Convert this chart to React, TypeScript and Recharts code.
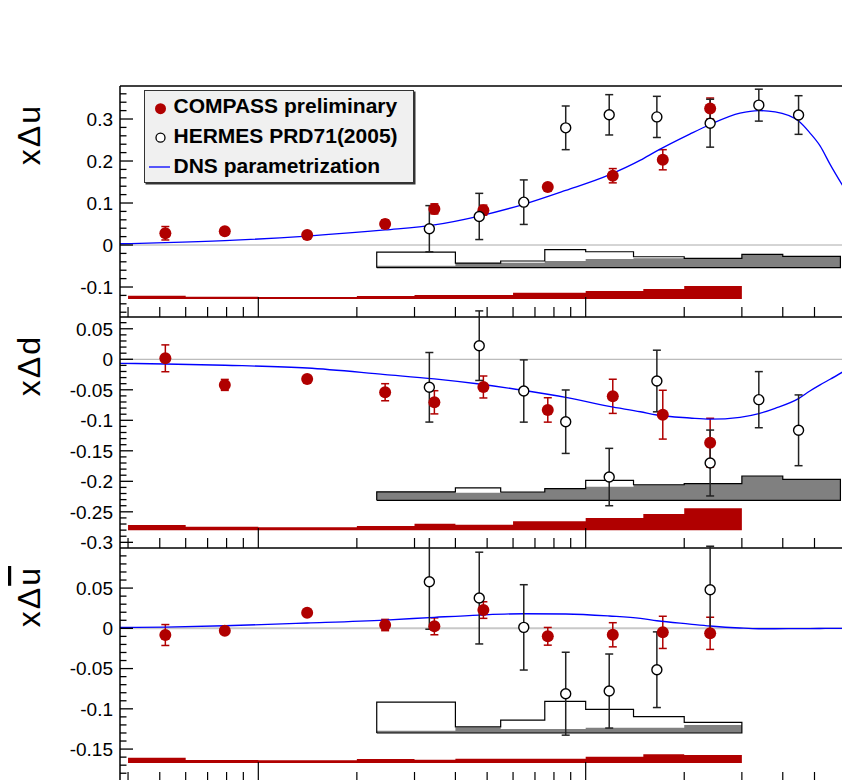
import React from 'react';
import {
  ComposedChart,
  XAxis,
  YAxis,
  Scatter,
  ErrorBar,
  Line,
  Area,
  ReferenceLine,
  Legend,
} from 'recharts';

const FONT = '"Liberation Sans", Arial, Helvetica, sans-serif';
const RED = '#b00000';
const BLUE = '#0000ff';

// Bjorken x of the measured points and of the systematic-error bins
const COMPASS_X = [0.0052, 0.0079, 0.0141, 0.0244, 0.0345, 0.0487, 0.0766, 0.121, 0.172, 0.24];
const HERMES_X = [0.0333, 0.0473, 0.0647, 0.0869, 0.118, 0.165, 0.24, 0.338, 0.447];
const COMPASS_EDGES = [0.004, 0.006, 0.01, 0.02, 0.03, 0.04, 0.06, 0.1, 0.15, 0.2, 0.3];
const HERMES_EDGES = [0.023, 0.04, 0.055, 0.075, 0.1, 0.14, 0.2, 0.3, 0.4, 0.6];
const CURVE_X = [
  0.00378, 0.0052, 0.0079, 0.0141, 0.0244, 0.0345, 0.0473, 0.0647, 0.0869, 0.118, 0.147,
  0.165, 0.208, 0.24, 0.296, 0.338, 0.379, 0.448, 0.484, 0.52, 0.558, 0.611,
];

const X_DOMAIN = [0.00378, 0.611];
const X_MAJOR = [0.01, 0.1];
const X_MINOR = [
  0.004, 0.005, 0.006, 0.007, 0.008, 0.009, 0.02, 0.03, 0.04, 0.05, 0.06, 0.07, 0.08, 0.09,
  0.2, 0.3, 0.4, 0.5,
];

// x Delta u
const U_COMPASS = [0.028, 0.033, 0.024, 0.05, 0.086, 0.083, 0.138, 0.165, 0.203, 0.325];
const U_COMPASS_ERR = [0.016, 0.008, 0.006, 0.01, 0.012, 0.012, 0.008, 0.017, 0.024, 0.025];
const U_HERMES = [0.0388, 0.068, 0.102, 0.279, 0.31, 0.305, 0.29, 0.333, 0.3095];
const U_HERMES_ERR = [0.055, 0.055, 0.053, 0.052, 0.048, 0.049, 0.057, 0.038, 0.046];
const U_DNS = [
  0.003, 0.0055, 0.0103, 0.0214, 0.036, 0.048, 0.069, 0.097, 0.13, 0.167, 0.202, 0.224, 0.264,
  0.287, 0.314, 0.32, 0.317, 0.2945, 0.267, 0.236, 0.192, 0.14,
];
const U_HERMES_SYS_BASE = -0.054;
const U_HERMES_SYS_TOT = [-0.0167, -0.0429, -0.0381, -0.0112, -0.016, -0.0279, -0.0317, -0.0221, -0.0269];
const U_HERMES_SYS_PART = [-0.0493, -0.0429, -0.042, -0.0381, -0.0333, -0.0317, -0.0317, -0.0221, -0.0269];
const U_COMPASS_SYS_BASE = -0.1286;
const U_COMPASS_SYS = [-0.1207, -0.1231, -0.1238, -0.1214, -0.119, -0.119, -0.1136, -0.1095, -0.1048, -0.0976];
const U_TICKS = [-0.1, 0, 0.1, 0.2, 0.3];

// x Delta d
const D_COMPASS = [0.0016, -0.042, -0.0323, -0.054, -0.0705, -0.0454, -0.083, -0.0607, -0.0908, -0.1367];
const D_COMPASS_ERR = [0.022, 0.009, 0.005, 0.014, 0.019, 0.018, 0.02, 0.028, 0.04, 0.04];
const D_HERMES = [-0.0459, 0.0223, -0.052, -0.1023, -0.193, -0.0356, -0.17, -0.0662, -0.1164];
const D_HERMES_ERR = [0.057, 0.057, 0.051, 0.052, 0.047, 0.0505, 0.054, 0.046, 0.058];
const D_DNS = [
  -0.0066, -0.0077, -0.0098, -0.0143, -0.025, -0.032, -0.0405, -0.051, -0.0623, -0.0772, -0.086,
  -0.0913, -0.0962, -0.0982, -0.0951, -0.089, -0.0803, -0.064, -0.052, -0.042, -0.0328, -0.0205,
];
const D_HERMES_SYS_BASE = -0.2311;
const D_HERMES_SYS_TOT = [-0.2173, -0.2108, -0.2175, -0.2121, -0.1984, -0.2056, -0.2039, -0.1913, -0.1967];
const D_HERMES_SYS_PART = [-0.2173, -0.2187, -0.2175, -0.2121, -0.2089, -0.2056, -0.2039, -0.1913, -0.1967];
const D_COMPASS_SYS_BASE = -0.2803;
const D_COMPASS_SYS = [-0.2715, -0.2743, -0.2752, -0.2731, -0.2697, -0.271, -0.2656, -0.2602, -0.2536, -0.2443];
const D_TICKS = [-0.3, -0.25, -0.2, -0.15, -0.1, -0.05, 0, 0.05];

// x Delta u-bar
const UB_COMPASS = [-0.0083, -0.003, 0.0194, 0.0041, 0.0025, 0.0227, -0.0099, -0.008, -0.005, -0.0062];
const UB_COMPASS_ERR = [0.013, 0.004, 0.003, 0.007, 0.0105, 0.0103, 0.011, 0.015, 0.02, 0.02];
const UB_HERMES = [0.0579, 0.0376, 0.0012, -0.0812, -0.0779, -0.0514, 0.048];
const UB_HERMES_ERR = [0.059, 0.057, 0.053, 0.0515, 0.046, 0.047, 0.054];
const UB_DNS = [
  0.0012, 0.0016, 0.0032, 0.0066, 0.0103, 0.0137, 0.0165, 0.0181, 0.0178, 0.0153, 0.0124,
  0.0094, 0.0053, 0.0029, 0.0004, -0.0005, -0.0005, -0.0004, -0.0003, -0.0002, -0.0001, 0,
];
const UB_HERMES_SYS_BASE = -0.13;
const UB_HERMES_SYS_TOT = [-0.0916, -0.1223, -0.114, -0.0908, -0.1007, -0.1098, -0.1168];
const UB_HERMES_SYS_PART = [-0.1272, -0.1231, -0.1251, -0.1251, -0.1235, -0.1235, -0.1201];
const UB_COMPASS_SYS_BASE = -0.1673;
const UB_COMPASS_SYS = [-0.1607, -0.1636, -0.164, -0.1624, -0.1632, -0.162, -0.162, -0.1595, -0.1565, -0.1574];
const UB_TICKS = [-0.15, -0.1, -0.05, 0, 0.05];

const LEGEND_LABELS = ['COMPASS preliminary', 'HERMES PRD71(2005)', 'DNS parametrization'];

const CHART_W = 850;
const MARGIN = { top: 10, right: 7, bottom: 9, left: 0 };
const Y_AXIS_W = 120;

type Pt = { x: number; v: number; e?: number; major?: boolean };

const points = (xs: number[], vs: number[], es: number[]): Pt[] =>
  xs.map((x, i) => ({ x, v: vs[i], e: es[i] }));

const curve = (vs: number[]): Pt[] => CURVE_X.map((x, i) => ({ x, v: vs[i] }));

// step histogram for a filled Area (stepAfter), last edge closes the final bin
const steps = (edges: number[], tops: number[]): Pt[] => [
  ...tops.map((t, i) => ({ x: edges[i], v: t })),
  { x: edges[tops.length], v: tops[tops.length - 1] },
];

// closed outline of a step histogram sitting on a base level
const outline = (edges: number[], tops: number[], base: number): Pt[] => {
  const pts: Pt[] = [{ x: edges[0], v: base }];
  tops.forEach((t, i) => {
    pts.push({ x: edges[i], v: t });
    pts.push({ x: edges[i + 1], v: t });
  });
  pts.push({ x: edges[tops.length], v: base });
  pts.push({ x: edges[0], v: base });
  return pts;
};

const minorTicks = (domain: number[], step: number, majors: number[]) => {
  const out: number[] = [];
  const start = Math.ceil(domain[0] / step - 1e-6);
  const end = Math.floor(domain[1] / step + 1e-6);
  for (let k = start; k <= end; k++) {
    const v = Math.round(k * step * 1e6) / 1e6;
    if (!majors.some((m) => Math.abs(m - v) < 1e-6)) out.push(v);
  }
  return out;
};

const xTickMarks = (domain: number[]): Pt[] => [
  ...X_MAJOR.map((x) => ({ x, v: domain[0], major: true })),
  ...X_MINOR.map((x) => ({ x, v: domain[0], major: false })),
];

const isMajor = (p: any) => Boolean(p.payload ? p.payload.major : p.major);

const XTickMark = (p: any) => (
  <line x1={p.cx} x2={p.cx} y1={p.cy} y2={p.cy - (isMajor(p) ? 20 : 10)} stroke="#000" strokeWidth={1.2} />
);

const fmtTick = (v: number) => String(Math.round(v * 100) / 100);

const AXIS_LINE = { stroke: '#000', strokeWidth: 1.5 };

const RedDot = (p: any) => <circle cx={p.cx} cy={p.cy} r={6} fill={RED} />;
const OpenDot = (p: any) => <circle cx={p.cx} cy={p.cy} r={5} fill="#fff" stroke="#000" strokeWidth={1.4} />;

function LegendBox() {
  return (
    <div
      style={{
        width: 270,
        height: 93,
        boxSizing: 'border-box',
        background: '#f0f0f0',
        border: '1px solid #333',
        boxShadow: '1.5px 1.5px 0 #333',
      }}
    >
      <svg width={268} height={91} style={{ display: 'block' }}>
        <circle cx={15.5} cy={17.7} r={5.5} fill={RED} />
        <circle cx={15.5} cy={46.7} r={4.5} fill="#fff" stroke="#000" strokeWidth={1.3} />
        <line x1={4} x2={25} y1={76} y2={76} stroke={BLUE} strokeWidth={1.3} />
        {LEGEND_LABELS.map((t, i) => (
          <text key={t} x={28.5} y={22.3 + i * 29.7} fontFamily={FONT} fontWeight="bold" fontSize={21} fill="#000">
            {t}
          </text>
        ))}
      </svg>
    </div>
  );
}

type PanelProps = {
  top: number;
  height: number;
  domain: number[];
  majors: number[];
  minorStep: number;
  title: string;
  bar?: boolean;
  compass: Pt[];
  hermes: Pt[];
  dns: Pt[];
  hermesEdges: number[];
  hermesTot: number[];
  hermesPart: number[];
  hermesBase: number;
  compassSys: number[];
  compassBase: number;
  zeroColor: string;
  zeroWidth: number;
  frameTop?: boolean;
  legend?: boolean;
};

function Panel(p: PanelProps) {
  const majorSet = p.majors;
  const allTicks = [...p.majors, ...minorTicks(p.domain, p.minorStep, p.majors)].sort((a, b) => a - b);

  // left-axis tick: label outside, mark pointing into the frame
  const renderYTick = (tp: any) => {
    const v = tp.payload.value;
    const major = majorSet.some((m) => Math.abs(m - v) < 1e-6);
    const x0 = tp.x;
    return (
      <g>
        <path d={`M${x0},${tp.y}h${major ? 13 : 6.5}`} stroke="#000" strokeWidth={1.3} fill="none" />
        {major && (
          <text x={x0 - 7} y={tp.y} dy="0.36em" textAnchor="end" fontFamily={FONT} fontSize={19} fill="#000">
            {fmtTick(v)}
          </text>
        )}
      </g>
    );
  };

  const renderTitle = (lp: any) => {
    const vb = lp.viewBox || { x: 0, y: 10 };
    const head = p.title.slice(0, -1);
    const last = p.title.slice(-1);
    return (
      <text
        transform={`translate(${vb.x + 40},${vb.y + 18}) rotate(-90)`}
        textAnchor="end"
        fontFamily={FONT}
        fontSize={32}
        letterSpacing={2}
        fill="#000"
      >
        {head}
        <tspan style={{ textDecoration: p.bar ? 'overline' : 'none' }}>{last}</tspan>
      </text>
    );
  };
  return (
    <div style={{ position: 'absolute', left: 0, top: p.top - 10 }}>
      <ComposedChart width={CHART_W} height={p.height + 20} margin={MARGIN}>
        <XAxis
          dataKey="x"
          type="number"
          scale="log"
          domain={X_DOMAIN}
          allowDataOverflow
          ticks={X_MAJOR}
          height={1}
          tick={false}
          tickLine={false}
          axisLine={AXIS_LINE}
        />
        <YAxis
          type="number"
          domain={p.domain}
          allowDataOverflow
          ticks={allTicks}
          interval={0}
          width={Y_AXIS_W}
          tickSize={0}
          tickMargin={0}
          tickLine={false}
          axisLine={AXIS_LINE}
          tick={renderYTick}
          label={renderTitle}
        />
        {p.frameTop && <ReferenceLine y={p.domain[1]} stroke="#000" strokeWidth={1.5} />}
        <ReferenceLine y={0} stroke={p.zeroColor} strokeWidth={p.zeroWidth} />
        <Scatter data={xTickMarks(p.domain)} dataKey="v" shape={XTickMark} isAnimationActive={false} />
        <Area
          data={steps(COMPASS_EDGES, p.compassSys)}
          dataKey="v"
          type="stepAfter"
          baseValue={p.compassBase}
          fill={RED}
          fillOpacity={1}
          stroke="none"
          isAnimationActive={false}
        />
        <Area
          data={steps(p.hermesEdges, p.hermesPart)}
          dataKey="v"
          type="stepAfter"
          baseValue={p.hermesBase}
          fill="#808080"
          fillOpacity={1}
          stroke="none"
          isAnimationActive={false}
        />
        <Line
          data={outline(p.hermesEdges, p.hermesTot, p.hermesBase)}
          dataKey="v"
          type="linear"
          stroke="#000"
          strokeWidth={1.2}
          dot={false}
          isAnimationActive={false}
        />
        <Scatter data={p.compass} dataKey="v" shape={RedDot} isAnimationActive={false}>
          <ErrorBar dataKey="e" direction="y" width={4} stroke={RED} strokeWidth={1.5} isAnimationActive={false} />
        </Scatter>
        <Line data={p.dns} dataKey="v" type="monotone" stroke={BLUE} strokeWidth={1.3} dot={false} isAnimationActive={false} />
        <Scatter data={p.hermes} dataKey="v" shape={OpenDot} isAnimationActive={false}>
          <ErrorBar dataKey="e" direction="y" width={4} stroke="#222" strokeWidth={1.5} isAnimationActive={false} />
        </Scatter>
        {p.legend && (
          <Legend
            layout="vertical"
            align="center"
            verticalAlign="middle"
            wrapperStyle={{ left: 144, top: 14, width: 270, height: 93 }}
            content={() => <LegendBox />}
          />
        )}
      </ComposedChart>
    </div>
  );
}

export default function App() {
  return (
    <div style={{ position: 'fixed', left: 0, top: 0, width: 842, height: 780, overflow: 'hidden', background: '#fff' }}>
      <Panel
        top={86}
        height={231}
        domain={[-0.1714, 0.3786]}
        majors={U_TICKS}
        minorStep={0.02}
        title="xΔu"
        compass={points(COMPASS_X, U_COMPASS, U_COMPASS_ERR)}
        hermes={points(HERMES_X, U_HERMES, U_HERMES_ERR)}
        dns={curve(U_DNS)}
        hermesEdges={HERMES_EDGES}
        hermesTot={U_HERMES_SYS_TOT}
        hermesPart={U_HERMES_SYS_PART}
        hermesBase={U_HERMES_SYS_BASE}
        compassSys={U_COMPASS_SYS}
        compassBase={U_COMPASS_SYS_BASE}
        zeroColor="#aaaaaa"
        zeroWidth={1}
        frameTop
        legend
      />
      <Panel
        top={317}
        height={231}
        domain={[-0.3093, 0.0693]}
        majors={D_TICKS}
        minorStep={0.01}
        title="xΔd"
        compass={points(COMPASS_X, D_COMPASS, D_COMPASS_ERR)}
        hermes={points(HERMES_X, D_HERMES, D_HERMES_ERR)}
        dns={curve(D_DNS)}
        hermesEdges={HERMES_EDGES}
        hermesTot={D_HERMES_SYS_TOT}
        hermesPart={D_HERMES_SYS_PART}
        hermesBase={D_HERMES_SYS_BASE}
        compassSys={D_COMPASS_SYS}
        compassBase={D_COMPASS_SYS_BASE}
        zeroColor="#aaaaaa"
        zeroWidth={1}
      />
      {/* the lower pad hides whatever of the middle one spills below its frame */}
      <div style={{ position: 'absolute', left: 0, top: 549, width: 842, height: 231, background: '#fff' }} />
      <Panel
        top={548}
        height={234}
        domain={[-0.1909, 0.0998]}
        majors={UB_TICKS}
        minorStep={0.01}
        title="xΔu"
        bar
        compass={points(COMPASS_X, UB_COMPASS, UB_COMPASS_ERR)}
        hermes={points(HERMES_X.slice(0, 7), UB_HERMES, UB_HERMES_ERR)}
        dns={curve(UB_DNS)}
        hermesEdges={HERMES_EDGES.slice(0, 8)}
        hermesTot={UB_HERMES_SYS_TOT}
        hermesPart={UB_HERMES_SYS_PART}
        hermesBase={UB_HERMES_SYS_BASE}
        compassSys={UB_COMPASS_SYS}
        compassBase={UB_COMPASS_SYS_BASE}
        zeroColor="#c8c8c8"
        zeroWidth={2}
      />
    </div>
  );
}
